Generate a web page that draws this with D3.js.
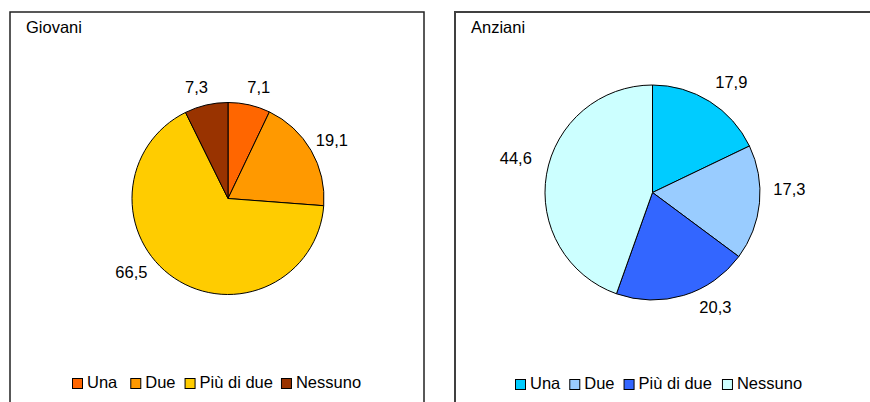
<!DOCTYPE html>
<html><head><meta charset="utf-8">
<script src="https://cdn.jsdelivr.net/npm/d3@7"></script>
<style>
html,body{margin:0;padding:0;background:#fff;}
svg{display:block;font-family:"Liberation Sans",Arial,sans-serif;}
</style></head>
<body>
<svg id="c" width="870" height="402"></svg>
<script>
// ---- data ----
const categories = ["Una", "Due", "Più di due", "Nessuno"];
const giovaniValues = [7.1, 19.1, 66.5, 7.3];
const anzianiValues = [17.9, 17.3, 20.3, 44.6];
const titles = ["Giovani", "Anziani"];
const giovaniColors = ["#FF6600", "#FF9900", "#FFCC00", "#993300"];
const anzianiColors = ["#00CCFF", "#99CCFF", "#3366FF", "#CCFFFF"];

// ---- layout ----
const FS = 16.5;
const panels = [
  {x: 10, y: 12, w: 414, h: 420, stroke: "#222", sw: 1.5, cx: 228, cy: 198.5, r: 96,
   values: giovaniValues, colors: giovaniColors, title: titles[0],
   nudges: [[6,-2],[7,-2],[-34,-19],[-6,-2]], legendX: 72, legendY: 378.5, legendGaps: [13,9,8]},
  {x: 455, y: 12, w: 430, h: 420, stroke: "#404040", sw: 2, cx: 652.5, cy: 192.5, r: 107.5,
   values: anzianiValues, colors: anzianiColors, title: titles[1],
   nudges: [[13,-5.5],[14,-15],[27,-4],[-15,-13]], legendX: 515, legendY: 379.5, legendGaps: [9,9,10]}
];

const svg = d3.select("#c");
const fmt = v => String(v).replace(".", ",");

panels.forEach(p => {
  svg.append("rect").attr("x", p.x).attr("y", p.y).attr("width", p.w).attr("height", p.h)
    .attr("fill", "#fff").attr("stroke", p.stroke).attr("stroke-width", p.sw);
  svg.append("text").attr("x", p.x + 16).attr("y", p.y + 21)
    .attr("font-size", FS).attr("fill", "#000").text(p.title);

  const pie = d3.pie().sort(null).value(d => d)(p.values);
  const arc = d3.arc().innerRadius(0).outerRadius(p.r);
  const lr = p.r + 16;
  const g = svg.append("g").attr("transform", `translate(${p.cx},${p.cy})`);
  g.selectAll("path").data(pie).join("path")
    .attr("d", arc)
    .attr("fill", (d, i) => p.colors[i])
    .attr("stroke", "#000").attr("stroke-width", 1);
  g.selectAll("text").data(pie).join("text")
    .attr("x", (d, i) => lr * Math.sin((d.startAngle + d.endAngle) / 2) + p.nudges[i][0])
    .attr("y", (d, i) => -lr * Math.cos((d.startAngle + d.endAngle) / 2) + p.nudges[i][1] + 6)
    .attr("text-anchor", "middle").attr("font-size", FS).attr("fill", "#000")
    .text(d => fmt(d.data));

  // legend
  const lg = svg.append("g");
  let x = p.legendX;
  categories.forEach((c, i) => {
    lg.append("rect").attr("x", x + 0.5).attr("y", p.legendY).attr("width", 10).attr("height", 10)
      .attr("fill", p.colors[i]).attr("stroke", "#000").attr("stroke-width", 1);
    const t = lg.append("text").attr("x", x + 15).attr("y", p.legendY + 9)
      .attr("font-size", FS).attr("fill", "#000").text(c);
    const w = t.node().getComputedTextLength();
    x = x + 15 + w + (p.legendGaps[i] || 0);
  });
});
</script>
</body></html>
